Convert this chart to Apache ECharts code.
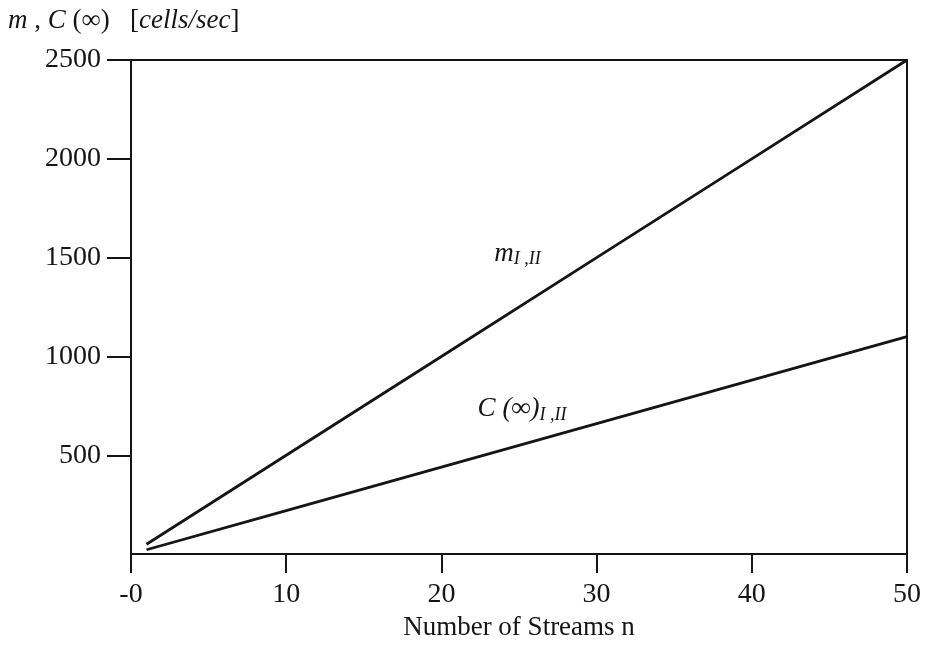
<!DOCTYPE html>
<html>
<head>
<meta charset="utf-8">
<script src="https://cdn.jsdelivr.net/npm/echarts@6/dist/echarts.min.js"></script>
<style>
  html, body { margin: 0; padding: 0; background: #fff; }
  #chart { width: 927px; height: 646px; }
</style>
</head>
<body>
<div id="chart"></div>
<script>
// Number of streams n and the rates read at each
const streams = [1, 10, 20, 30, 40, 50];
const meanRate = [50, 500, 1000, 1500, 2000, 2500];      // m_{I,II}
const capacity = [22, 220, 440, 660, 880, 1100];         // C(∞)_{I,II}
const xTicks = [0, 10, 20, 30, 40, 50];
const yTicks = [500, 1000, 1500, 2000, 2500];

const serif = '"Liberation Serif", "DejaVu Serif", serif';
const ink = '#151515';

const toPairs = (xs, ys) => xs.map((x, i) => [x, ys[i]]);

const chart = echarts.init(document.getElementById('chart'));
chart.setOption({
  animation: false,
  backgroundColor: '#fff',
  grid: {
    left: 131, right: 20, top: 60, bottom: 91,
    show: true, borderColor: ink, borderWidth: 2, backgroundColor: 'transparent'
  },
  xAxis: {
    type: 'value', min: 0, max: 50, interval: 10,
    name: 'Number of Streams n', nameLocation: 'middle', nameGap: 36,
    nameTextStyle: { fontFamily: serif, fontSize: 27, color: ink },
    axisLine: { show: true, lineStyle: { color: ink, width: 2 } },
    axisTick: { show: true, inside: false, length: 19, customValues: xTicks, lineStyle: { color: ink, width: 2 } },
    axisLabel: {
      margin: 27, fontFamily: serif, fontSize: 28, color: ink,
      customValues: xTicks,
      formatter: v => (v === xTicks[0] ? '-0' : String(v))
    },
    splitLine: { show: false }
  },
  yAxis: {
    type: 'value', min: 0, max: 2500, interval: 500,
    axisLine: { show: true, lineStyle: { color: ink, width: 2 } },
    axisTick: { show: true, inside: false, length: 24, customValues: yTicks, lineStyle: { color: ink, width: 2 } },
    axisLabel: {
      margin: 30, fontFamily: serif, fontSize: 28, color: ink,
      customValues: yTicks,
      formatter: v => String(v)
    },
    splitLine: { show: false }
  },
  graphic: [{
    type: 'text', left: 8, top: 7,
    style: {
      text: '{i|m} , {i|C} (∞)   [{i|cells/sec}]',
      fontFamily: serif, fontSize: 27, fill: ink,
      rich: { i: { fontStyle: 'italic', fontFamily: serif, fontSize: 27 } }
    }
  }],
  series: [
    {
      type: 'line', data: toPairs(streams, meanRate),
      showSymbol: false, lineStyle: { color: ink, width: 2.8 },
      markPoint: {
        symbol: 'circle', symbolSize: 0,
        data: [{ coord: [24.9, 1520] }],
        label: {
          show: true, position: 'inside',
          formatter: '{m|m}{s|I ,II}',
          rich: {
            m: { fontFamily: serif, fontStyle: 'italic', fontSize: 27, color: ink },
            s: { fontFamily: serif, fontStyle: 'italic', fontSize: 18, color: ink, padding: [12, 0, 0, 0] }
          }
        }
      }
    },
    {
      type: 'line', data: toPairs(streams, capacity),
      showSymbol: false, lineStyle: { color: ink, width: 2.8 },
      markPoint: {
        symbol: 'circle', symbolSize: 0,
        data: [{ coord: [25.2, 735] }],
        label: {
          show: true, position: 'inside',
          formatter: '{c|C (∞)}{s|I ,II}',
          rich: {
            c: { fontFamily: serif, fontStyle: 'italic', fontSize: 27, color: ink },
            s: { fontFamily: serif, fontStyle: 'italic', fontSize: 18, color: ink, padding: [12, 0, 0, 0] }
          }
        }
      }
    }
  ]
});
</script>
</body>
</html>
